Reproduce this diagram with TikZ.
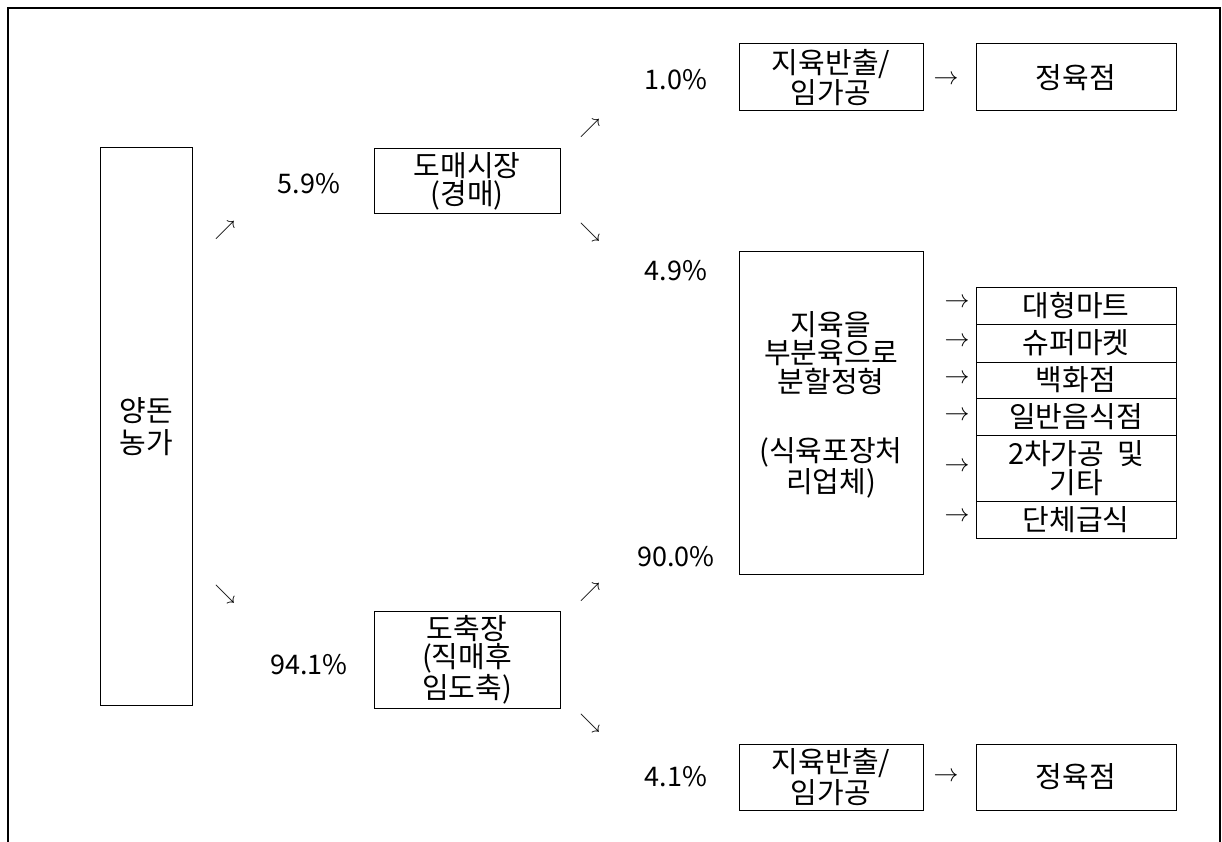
\documentclass[tikz,border=0pt]{standalone}
\usepackage{fontspec}
\setmainfont{Noto Sans CJK KR}
\begin{document}
\begin{tikzpicture}[x=1pt,y=-1pt,
  box/.style={draw,line width=1pt,align=center,inner sep=0pt,font=\fontsize{29}{28.5}\selectfont},
  lbl/.style={font=\fontsize{27}{29}\selectfont,inner sep=0pt},
  darr/.style={font=\fontsize{20}{20}\selectfont,inner sep=0pt},
  rarr/.style={font=\fontsize{25}{25}\selectfont,inner sep=0pt}]
\useasboundingbox (0,0) rectangle (1222,842);
\draw[line width=2pt] (8,842) -- (8,8) -- (1220,8) -- (1220,842);

% boxes
\node[box,minimum width=92pt,minimum height=557pt] (farm) at (146,426.5) {양돈\\[4pt]농가};
\node[box,minimum width=186pt,minimum height=65pt] (whole) at (467,181.5) {도매시장\\(경매)};
\node[box,minimum width=186pt,minimum height=97pt] (slaughter) at (467,659.5) {도축장\\(직매후\\임도축)};
\node[box,minimum width=184pt,minimum height=67pt] (carc1) at (831,77.5) {지육반출/\\임가공};
\node[box,minimum width=200pt,minimum height=67pt] (shop1) at (1076,77.5) {정육점};
\node[box,minimum width=184pt,minimum height=323pt] (proc) at (831,412.5) {\raisebox{0pt}{}\\[-20pt]지육을\\부분육으로\\분할정형\\[41pt](식육포장처\\리업체)};
\node[box,minimum width=184pt,minimum height=66pt] (carc2) at (831,777) {지육반출/\\임가공};
\node[box,minimum width=200pt,minimum height=66pt] (shop2) at (1076,777) {정육점};

\node[box,minimum width=200pt,minimum height=37pt] (r1) at (1076,305.5) {대형마트};
\node[box,minimum width=200pt,minimum height=38pt] (r2) at (1076,343) {슈퍼마켓};
\node[box,minimum width=200pt,minimum height=36pt] (r3) at (1076,380) {백화점};
\node[box,minimum width=200pt,minimum height=37pt] (r4) at (1076,416.5) {일반음식점};
\node[box,minimum width=200pt,minimum height=66pt] (r5) at (1076,468) {2차가공\ \ 및\\기타};
\node[box,minimum width=200pt,minimum height=37pt] (r6) at (1076,519.5) {단체급식};

% percentages
\node[lbl] (p1) at (676,80) {1.0\%};
\node[lbl] (p2) at (309,184) {5.9\%};
\node[lbl] (p3) at (676,271) {4.9\%};
\node[lbl] (p4) at (676,557) {90.0\%};
\node[lbl] (p5) at (309,665) {94.1\%};
\node[lbl] (p6) at (676,777) {4.1\%};

% arrow glyphs
\node[darr] (a1) at (225,230) {$\nearrow$};
\node[darr] (a2) at (225,594) {$\searrow$};
\node[darr] (a3) at (590,128) {$\nearrow$};
\node[darr] (a4) at (590,232) {$\searrow$};
\node[darr] (a5) at (590,592) {$\nearrow$};
\node[darr] (a6) at (590,723) {$\searrow$};
\node[rarr] (b1) at (946,80) {$\rightarrow$};
\node[rarr] (b2) at (946,777) {$\rightarrow$};
\node[rarr] (c1) at (957,303) {$\rightarrow$};
\node[rarr] (c2) at (957,342) {$\rightarrow$};
\node[rarr] (c3) at (957,379) {$\rightarrow$};
\node[rarr] (c4) at (957,416) {$\rightarrow$};
\node[rarr] (c5) at (957,467) {$\rightarrow$};
\node[rarr] (c6) at (957,517) {$\rightarrow$};
\end{tikzpicture}
\end{document}
